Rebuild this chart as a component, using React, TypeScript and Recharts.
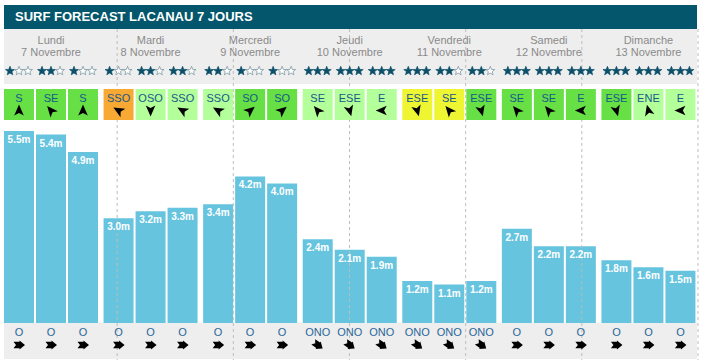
import React from 'react'
import { BarChart, Bar, XAxis, YAxis, LabelList, ReferenceLine } from 'recharts'

const days = ['Lundi', 'Mardi', 'Mercredi', 'Jeudi', 'Vendredi', 'Samedi', 'Dimanche']
const dates = ['7 Novembre', '8 Novembre', '9 Novembre', '10 Novembre', '11 Novembre', '12 Novembre', '13 Novembre']

// wave height (m), three slots per day
const waveHeights = [
  [5.5, 5.4, 4.9],
  [3.0, 3.2, 3.3],
  [3.4, 4.2, 4.0],
  [2.4, 2.1, 1.9],
  [1.2, 1.1, 1.2],
  [2.7, 2.2, 2.2],
  [1.8, 1.6, 1.5],
]

const stars = [
  [1, 2, 1],
  [1, 2, 2],
  [2, 1, 1],
  [3, 3, 3],
  [3, 2, 2],
  [3, 3, 3],
  [3, 3, 3],
]

const windDirs = [
  ['S', 'SE', 'S'],
  ['SSO', 'OSO', 'SSO'],
  ['SSO', 'SO', 'SO'],
  ['SE', 'ESE', 'E'],
  ['ESE', 'SE', 'ESE'],
  ['SE', 'SE', 'E'],
  ['ESE', 'ENE', 'E'],
]

const windQuality = [
  ['good', 'good', 'good'],
  ['bad', 'fair', 'fair'],
  ['fair', 'good', 'good'],
  ['fair', 'fair', 'fair'],
  ['poor', 'poor', 'good'],
  ['good', 'good', 'good'],
  ['good', 'fair', 'fair'],
]

const swellDirs = [
  ['O', 'O', 'O'],
  ['O', 'O', 'O'],
  ['O', 'O', 'O'],
  ['ONO', 'ONO', 'ONO'],
  ['ONO', 'ONO', 'ONO'],
  ['O', 'O', 'O'],
  ['O', 'O', 'O'],
]

const dividers = [1, 2, 3, 4, 5, 6]

const chartData = days.map((day, i) => ({
  day,
  date: dates[i],
  h0: waveHeights[i][0],
  h1: waveHeights[i][1],
  h2: waveHeights[i][2],
}))

const COLORS = {
  title: '#03566b',
  panel: '#eeeeee',
  bar: '#66c4df',
  star: '#0b4f69',
  dayText: '#8a8a8a',
  windText: '#17588a',
  swellText: '#2a6699',
  divider: '#bdbdbd',
}

const WIND_BG: Record<string, string> = {
  good: '#66e045',
  fair: '#b3ff99',
  bad: '#f7a933',
  poor: '#eef533',
}

// arrow rotation in degrees, 0 = pointing up
const WIND_ROT: Record<string, number> = {
  S: 0,
  SE: -40,
  SSO: -60,
  OSO: 180,
  SO: 50,
  ESE: 165,
  E: -90,
  ENE: -15,
}
const SWELL_ROT: Record<string, number> = { O: 90, ONO: 125 }

const FONT = 'Arial, "Liberation Sans", sans-serif'

const geom = (p: any) => {
  const vb = p.viewBox || p
  return { x: Number(vb.x), y: Number(vb.y), width: Number(vb.width) }
}

const starPath = (cx: number, cy: number, R: number, r: number) => {
  let d = ''
  for (let k = 0; k < 10; k++) {
    const rad = k % 2 === 0 ? R : r
    const a = -Math.PI / 2 + (k * Math.PI) / 5
    d += (k === 0 ? 'M' : 'L') + (cx + rad * Math.cos(a)).toFixed(2) + ',' + (cy + rad * Math.sin(a)).toFixed(2)
  }
  return d + 'Z'
}

const HeightLabel = (p: any) => {
  const { x, y, width } = geom(p)
  return (
    <text x={x + width / 2} y={y + 12} textAnchor="middle" fill="#fff" fontSize={10} fontWeight="bold" fontFamily={FONT}>
      {Number(p.value).toFixed(1)}m
    </text>
  )
}

const makeSlotDecor = (slot: number) => (p: any) => {
  const { x, width } = geom(p)
  const i = p.index
  const cx = x + width / 2
  const n = stars[i][slot]
  const wd = windDirs[i][slot]
  const sd = swellDirs[i][slot]
  return (
    <g>
      {[0, 1, 2].map((k) => (
        <path
          key={k}
          d={starPath(cx + (k - 1) * 9, 71, 4.7, 2)}
          fill={k < n ? COLORS.star : '#ffffff'}
          stroke={k < n ? COLORS.star : '#6f8e9a'}
          strokeWidth={0.7}
        />
      ))}
      <rect x={x} y={89} width={width} height={31} fill={WIND_BG[windQuality[i][slot]]} />
      <text x={cx} y={101.5} textAnchor="middle" fill={COLORS.windText} fontSize={11} fontFamily={FONT}>
        {wd}
      </text>
      <path d="M0,-6 L4.8,5 L0,2.4 L-4.8,5 Z" fill="#000" transform={`translate(${cx},110.5) rotate(${WIND_ROT[wd] ?? 0})`} />
      <text x={cx} y={336} textAnchor="middle" fill={COLORS.swellText} fontSize={11} fontFamily={FONT}>
        {sd}
      </text>
      <path
        d="M0,-6 L4.5,-0.5 L3.3,-0.5 L3.3,5.5 L0,3 L-3.3,5.5 L-3.3,-0.5 L-4.5,-0.5 Z"
        fill="#000"
        transform={`translate(${cx},345) rotate(${SWELL_ROT[sd] ?? 90})`}
      />
    </g>
  )
}

const DayLabel = (p: any) => {
  const { x, width } = geom(p)
  const cx = x + width / 2
  return (
    <g fontFamily={FONT} fontSize={11} fill={COLORS.dayText} textAnchor="middle">
      <text x={cx} y={44}>{days[p.index]}</text>
      <text x={cx} y={56}>{dates[p.index]}</text>
    </g>
  )
}

const DividerLine = (p: any) => (
  <line x1={p.x1} x2={p.x2} y1={29} y2={360} stroke={COLORS.divider} strokeDasharray="3 3" strokeWidth={1} />
)

export default function App() {
  return (
    <div style={{ position: 'relative', width: 704, height: 364, background: '#fff', fontFamily: FONT }}>
      <style>{'body{margin:0}'}</style>
      <div
        style={{
          position: 'absolute',
          left: 4,
          top: 5,
          width: 682,
          height: 24,
          paddingLeft: 11,
          lineHeight: '24px',
          background: COLORS.title,
          color: '#fff',
          fontWeight: 'bold',
          fontSize: 13,
        }}
      >
        SURF FORECAST LACANAU 7 JOURS
      </div>
      <div style={{ position: 'absolute', left: 4, top: 29, width: 693, height: 55, background: COLORS.panel }} />
      <div style={{ position: 'absolute', left: 4, top: 323, width: 693, height: 36, background: COLORS.panel }} />
      <div style={{ position: 'absolute', left: 0, top: 0 }}>
        <BarChart
          width={704}
          height={364}
          data={chartData}
          margin={{ top: 113.6, right: 6, bottom: 41, left: 1 }}
          barGap={2}
        >
          <XAxis dataKey="day" hide />
          <XAxis xAxisId="grid" type="number" domain={[0, 7]} hide />
          <YAxis domain={[0, 6]} hide />
          {dividers.map((d) => (
            <ReferenceLine key={d} xAxisId="grid" x={d} ifOverflow="visible" shape={DividerLine} />
          ))}
          <Bar dataKey="h0" fill={COLORS.bar} barSize={30} isAnimationActive={false}>
            <LabelList dataKey="h0" content={HeightLabel} />
            <LabelList dataKey="h0" content={makeSlotDecor(0)} />
          </Bar>
          <Bar dataKey="h1" fill={COLORS.bar} barSize={30} isAnimationActive={false}>
            <LabelList dataKey="h1" content={HeightLabel} />
            <LabelList dataKey="h1" content={makeSlotDecor(1)} />
            <LabelList dataKey="day" content={DayLabel} />
          </Bar>
          <Bar dataKey="h2" fill={COLORS.bar} barSize={30} isAnimationActive={false}>
            <LabelList dataKey="h2" content={HeightLabel} />
            <LabelList dataKey="h2" content={makeSlotDecor(2)} />
          </Bar>
        </BarChart>
      </div>
    </div>
  )
}
